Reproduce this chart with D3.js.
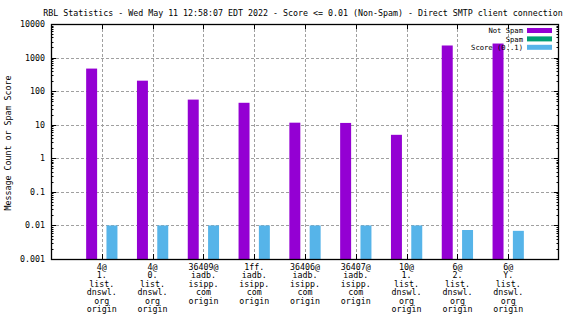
<!DOCTYPE html>
<html>
<head>
<meta charset="utf-8">
<script src="https://cdn.jsdelivr.net/npm/d3@7"></script>
<style>
html,body{margin:0;padding:0;background:#fff;}
svg{display:block;}
text{font-family:"DejaVu Sans Mono",monospace;font-size:8.3px;fill:#000;}
</style>
</head>
<body>
<svg id="chart" width="576" height="324"></svg>
<script>
const titleText = "RBL Statistics - Wed May 11 12:58:07 EDT 2022 - Score <= 0.01 (Non-Spam) - Direct SMTP client connection";
const yLabel = "Message Count or Spam Score";
const categories = [
  ["4@","1.","list.","dnswl.","org","origin"],
  ["4@","0.","list.","dnswl.","org","origin"],
  ["36409@","iadb.","isipp.","com","origin"],
  ["1ff.","iadb.","isipp.","com","origin"],
  ["36406@","iadb.","isipp.","com","origin"],
  ["36407@","iadb.","isipp.","com","origin"],
  ["10@","1.","list.","dnswl.","org","origin"],
  ["6@","2.","list.","dnswl.","org","origin"],
  ["6@","Y.","list.","dnswl.","org","origin"]
];
const notSpam = [470, 205, 56, 45, 11.5, 11.3, 5.0, 2290, 2620];
const spam    = [0, 0, 0, 0, 0, 0, 0, 0, 0];
const score   = [0.01, 0.01, 0.01, 0.01, 0.01, 0.01, 0.01, 0.0073, 0.0069];
const seriesNames = ["Not Spam", "Spam", "Score (0..1)"];
const seriesColors = ["#9400d3", "#009e73", "#56b4e9"];
const yTickValues = [0.001, 0.01, 0.1, 1, 10, 100, 1000, 10000];
const yTickLabels = ["0.001", "0.01", "0.1", "1", "10", "100", "1000", "10000"];

const svg = d3.select("#chart");
const L = 51, R = 559, T = 24, B = 259;

const x = d3.scaleLinear().domain([-1, categories.length]).range([L, R]);
const y = d3.scaleLog().domain([0.001, 10000]).range([B, T]);

// grid
const grid = svg.append("g").attr("stroke", "#a0a0a0").attr("stroke-dasharray", "3,2").attr("stroke-width", 1);
yTickValues.slice(1, -1).forEach(v => {
  grid.append("line").attr("x1", L).attr("x2", R).attr("y1", Math.round(y(v)) + 0.5).attr("y2", Math.round(y(v)) + 0.5);
});
categories.forEach((c, i) => {
  grid.append("line").attr("x1", Math.round(x(i)) + 0.5).attr("x2", Math.round(x(i)) + 0.5).attr("y1", T).attr("y2", B);
});

// bars
const series = [notSpam, spam, score];
const offsets = [-0.2, 0, 0.2];
const bw = 0.216 * (x(1) - x(0));
series.forEach((vals, s) => {
  svg.append("g").selectAll("rect")
    .data(vals.map((v, i) => ({v, i})).filter(d => d.v > 0))
    .join("rect")
    .attr("x", d => x(d.i + offsets[s]) - bw / 2)
    .attr("width", bw)
    .attr("y", d => y(d.v))
    .attr("height", d => B - y(d.v))
    .attr("fill", seriesColors[s]);
});

// axes frame and ticks
const axisG = svg.append("g").attr("stroke", "#000").attr("stroke-width", 1).attr("fill", "none");
axisG.append("rect").attr("x", L + 0.5).attr("y", T + 0.5).attr("width", R - L - 1).attr("height", B - T).attr("stroke-width", 1.3);

const minor = [];
for (let e = -3; e < 4; e++) for (let m = 2; m <= 9; m++) minor.push(m * Math.pow(10, e));
minor.forEach(v => {
  const yy = Math.round(y(v)) + 0.5;
  axisG.append("line").attr("x1", L).attr("x2", L + 2.5).attr("y1", yy).attr("y2", yy);
  axisG.append("line").attr("x1", R).attr("x2", R - 2.5).attr("y1", yy).attr("y2", yy);
});
yTickValues.forEach(v => {
  const yy = Math.round(y(v)) + 0.5;
  axisG.append("line").attr("x1", L).attr("x2", L + 5).attr("y1", yy).attr("y2", yy);
  axisG.append("line").attr("x1", R).attr("x2", R - 5).attr("y1", yy).attr("y2", yy);
});
categories.forEach((c, i) => {
  const xx = Math.round(x(i)) + 0.5;
  axisG.append("line").attr("x1", xx).attr("x2", xx).attr("y1", B).attr("y2", B - 5);
  axisG.append("line").attr("x1", xx).attr("x2", xx).attr("y1", T).attr("y2", T + 5);
});

// y tick labels
svg.append("g").selectAll("text").data(yTickValues).join("text")
  .attr("x", 45).attr("y", d => y(d) + 3)
  .attr("text-anchor", "end")
  .text((d, i) => yTickLabels[i]);

// x labels
categories.forEach((lines, i) => {
  const t = svg.append("text").attr("text-anchor", "middle");
  lines.forEach((ln, k) => {
    t.append("tspan").attr("x", x(i)).attr("y", 269.5 + k * 8.5).text(ln);
  });
});

// title
svg.append("text").attr("x", 303).attr("y", 16).attr("text-anchor", "middle").text(titleText);

// y label
svg.append("text").attr("transform", "translate(10.5,143) rotate(-90)").attr("text-anchor", "middle").text(yLabel);

// legend
seriesNames.forEach((n, s) => {
  const yy = 28 + s * 8.4;
  svg.append("rect").attr("x", 527).attr("y", yy).attr("width", 25).attr("height", 5).attr("fill", seriesColors[s]);
  svg.append("text").attr("x", 523).attr("y", yy + 5.3).attr("text-anchor", "end")
    .style("font-size", "7.2px").text(n);
});
</script>
</body>
</html>
